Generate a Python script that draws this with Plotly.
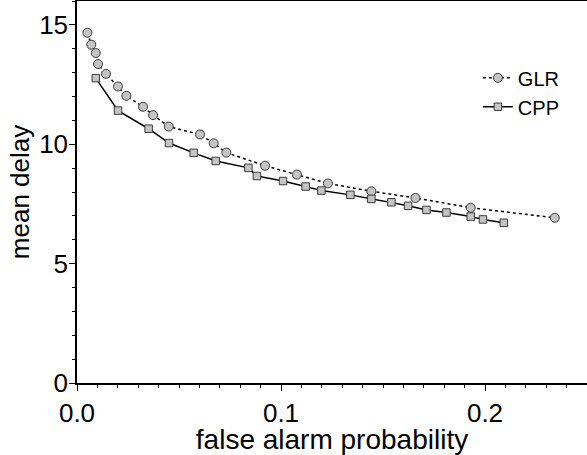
import plotly.graph_objects as go

# GLR series (false alarm probability, mean delay)
glr_x = [0.0051, 0.0070, 0.0092, 0.0103, 0.0142, 0.0201, 0.0242, 0.0324, 0.0373, 0.0450,
         0.0603, 0.0670, 0.0732, 0.0922, 0.1078, 0.1230, 0.1443, 0.1659, 0.1930, 0.2342]
glr_y = [14.67, 14.17, 13.82, 13.36, 12.95, 12.42, 12.03, 11.57, 11.22, 10.74,
         10.41, 10.04, 9.65, 9.10, 8.73, 8.36, 8.03, 7.75, 7.34, 6.92]

# CPP series
cpp_x = [0.0092, 0.0201, 0.0351, 0.0451, 0.0572, 0.0680, 0.0840, 0.0882, 0.1010, 0.1121,
         0.1198, 0.1340, 0.1443, 0.1541, 0.1623, 0.1713, 0.1811, 0.1930, 0.1990, 0.2092]
cpp_y = [12.77, 11.41, 10.65, 10.05, 9.64, 9.30, 9.01, 8.67, 8.46, 8.23,
         8.06, 7.88, 7.71, 7.57, 7.42, 7.25, 7.14, 6.97, 6.85, 6.71]

x_ticks = [0.0, 0.1, 0.2]
x_tick_labels = ["0.0", "0.1", "0.2"]
y_ticks = [0, 5, 10, 15]
y_tick_labels = ["0", "5", "10", "15"]

FONT = "Liberation Sans"
FILL = "#c4c4c4"
EDGE = "#3a3a3a"

fig = go.Figure()
fig.add_trace(go.Scatter(
    x=glr_x, y=glr_y, name="GLR", mode="lines+markers",
    line=dict(color="black", width=1.5, dash="dot"),
    marker=dict(symbol="circle", size=9, color=FILL, line=dict(color=EDGE, width=1)),
))
fig.add_trace(go.Scatter(
    x=cpp_x, y=cpp_y, name="CPP", mode="lines+markers",
    line=dict(color="black", width=1.5),
    marker=dict(symbol="square", size=7.5, color=FILL, line=dict(color=EDGE, width=1)),
))

fig.update_layout(
    width=587, height=455,
    margin=dict(l=77, r=0, t=1, b=72, autoexpand=False),
    paper_bgcolor="white", plot_bgcolor="white",
    font=dict(family=FONT, color="black"),
    showlegend=True,
    legend=dict(x=0.786, y=0.85, xanchor="left", yanchor="top",
                bgcolor="rgba(0,0,0,0)", borderwidth=0,
                font=dict(size=20, family=FONT), itemwidth=30, tracegroupgap=0),
)
fig.update_xaxes(
    range=[0, 0.25], showgrid=False, zeroline=False, automargin=False,
    showline=True, linecolor="black", linewidth=1.5, mirror=True,
    ticks="outside", ticklen=6, tickwidth=1, tickcolor="black",
    tickvals=x_ticks, ticktext=x_tick_labels, tickfont=dict(size=26),
    minor=dict(dtick=0.01, ticks="outside", ticklen=3, tickcolor="black", showgrid=False),
    title=dict(text="false alarm probability", font=dict(size=28), standoff=0),
)
fig.update_yaxes(
    range=[0, 16], showgrid=False, zeroline=False, automargin=False,
    showline=True, linecolor="black", linewidth=1.5, mirror=False,
    ticks="outside", ticklen=6, tickwidth=1, tickcolor="black",
    tickvals=y_ticks, ticktext=y_tick_labels, tickfont=dict(size=26),
    ticklabelstandoff=-4,
    minor=dict(dtick=1, ticks="outside", ticklen=3, tickcolor="black", showgrid=False),
    title=dict(text="mean delay", font=dict(size=26), standoff=2),
)

fig.write_html("out.html", config={"displayModeBar": False},
               post_script="document.body.style.margin='0';")
